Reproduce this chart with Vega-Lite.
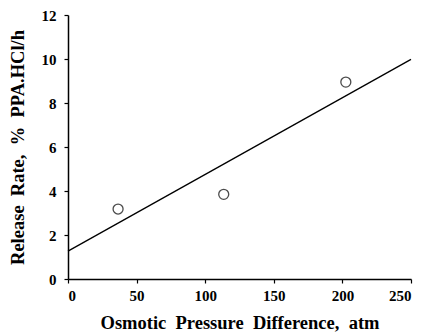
{
  "$schema": "https://vega.github.io/schema/vega-lite/v6.json",
  "autosize": "none",
  "width": 343,
  "height": 264,
  "padding": {"left": 68, "top": 15, "right": 15, "bottom": 56},
  "background": "white",
  "config": {
    "view": {"stroke": null},
    "axis": {
      "grid": false,
      "domainColor": "black",
      "domainWidth": 1.5,
      "tickColor": "black",
      "tickWidth": 1.2,
      "labelFont": "Liberation Serif",
      "labelFontWeight": "bold",
      "labelFontSize": 15,
      "labelColor": "black",
      "titleFont": "Liberation Serif",
      "titleFontWeight": "bold",
      "titleFontSize": 18.5,
      "titleColor": "black"
    }
  },
  "datasets": {
    "pts": [
      {"x": 36.5, "y": 3.18},
      {"x": 113.5, "y": 3.85},
      {"x": 202.5, "y": 8.95}
    ],
    "fit": [
      {"x": 0, "y": 1.27},
      {"x": 250, "y": 9.98}
    ]
  },
  "layer": [
    {
      "data": {"name": "fit"},
      "mark": {"type": "line", "color": "black", "strokeWidth": 1.3},
      "encoding": {
        "x": {
          "field": "x", "type": "quantitative",
          "scale": {"domain": [0, 250], "nice": false},
          "axis": {
            "title": "Osmotic\u00a0\u00a0Pressure\u00a0\u00a0Difference,\u00a0\u00a0atm",
            "values": [0, 25, 50, 75, 100, 125, 150, 175, 200, 225, 250],
            "labelExpr": "datum.value % 50 === 0 ? datum.label : ''",
            "tickSize": 4,
            "labelPadding": 5,
            "titlePadding": 10
          }
        },
        "y": {
          "field": "y", "type": "quantitative",
          "scale": {"domain": [0, 12], "nice": false},
          "axis": {
            "title": "Release\u00a0\u00a0Rate,\u00a0\u00a0%\u00a0\u00a0PPA.HCl/h",
            "values": [0, 1, 2, 3, 4, 5, 6, 7, 8, 9, 10, 11, 12],
            "labelExpr": "datum.value % 2 === 0 ? datum.label : ''",
            "tickSize": 4,
            "labelPadding": 8,
            "titlePadding": 14
          }
        }
      }
    },
    {
      "data": {"name": "pts"},
      "mark": {"type": "point", "shape": "circle", "filled": false, "color": "black", "strokeWidth": 1.3, "size": 100},
      "encoding": {
        "x": {"field": "x", "type": "quantitative"},
        "y": {"field": "y", "type": "quantitative"}
      }
    }
  ]
}
